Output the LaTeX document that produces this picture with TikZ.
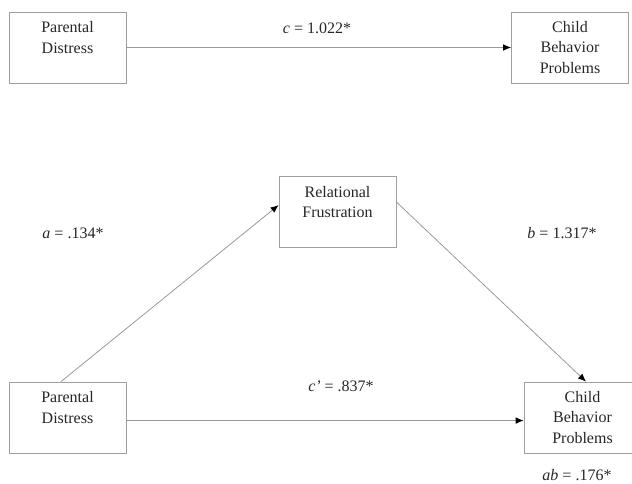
\documentclass[tikz,border=0pt]{standalone}
\usepackage{fontspec}
\setmainfont{Liberation Serif}
\usetikzlibrary{arrows.meta}
\tikzset{
  box/.style={draw=gray!75,line width=0.6pt,minimum width=87.75pt,minimum height=53.25pt,
    align=center,inner sep=0pt,font=\fontsize{12}{15.4}\selectfont,text=black!85},
  arr/.style={draw=gray!80,line width=0.6pt,-{Latex[black,length=6pt,width=5pt]}},
  lbl/.style={font=\fontsize{12}{15}\selectfont,text=black!85}
}
\begin{document}
\begin{tikzpicture}[x=0.75pt,y=-0.75pt]
		\useasboundingbox (0,0) rectangle (632,484);
		% total effect
		\path (67.5,47.5) node(pd1)[box]{Parental\\Distress\\\mbox{}}
		(570,47.5) node(cbp1)[box]{Child\\Behavior\\Problems};
		\draw[arr] (pd1) -- (cbp1);
		\path (317,28) node(c)[lbl]{\textit{c} = 1.022*};
		% mediation
		\path (337.5,212) node(rf)[box]{Relational\\Frustration\\\mbox{}}
		(67.5,417.5) node(pd2)[box]{Parental\\Distress\\\mbox{}}
		(582.5,417.5) node(cbp2)[box]{Child\\Behavior\\Problems};
		\draw[arr] ([xshift=-4.9pt]pd2.north) -- ([yshift=5.2pt]rf.west);
		\draw[arr] ([yshift=7.5pt]rf.east) -- ([xshift=2.6pt]cbp2.north);
		\draw[arr] ([yshift=-2.3pt]pd2.east) -- ([yshift=-2.3pt]cbp2.west);
		\path (73,233) node(a)[lbl]{\textit{a} = .134*}
		(562,233) node(b)[lbl]{\textit{b} = 1.317*}
		(341,386) node(cp)[lbl]{\textit{c’} = .837*}
		(577,475) node(ab)[lbl]{\textit{ab} = .176*};
	\end{tikzpicture}
\end{document}
